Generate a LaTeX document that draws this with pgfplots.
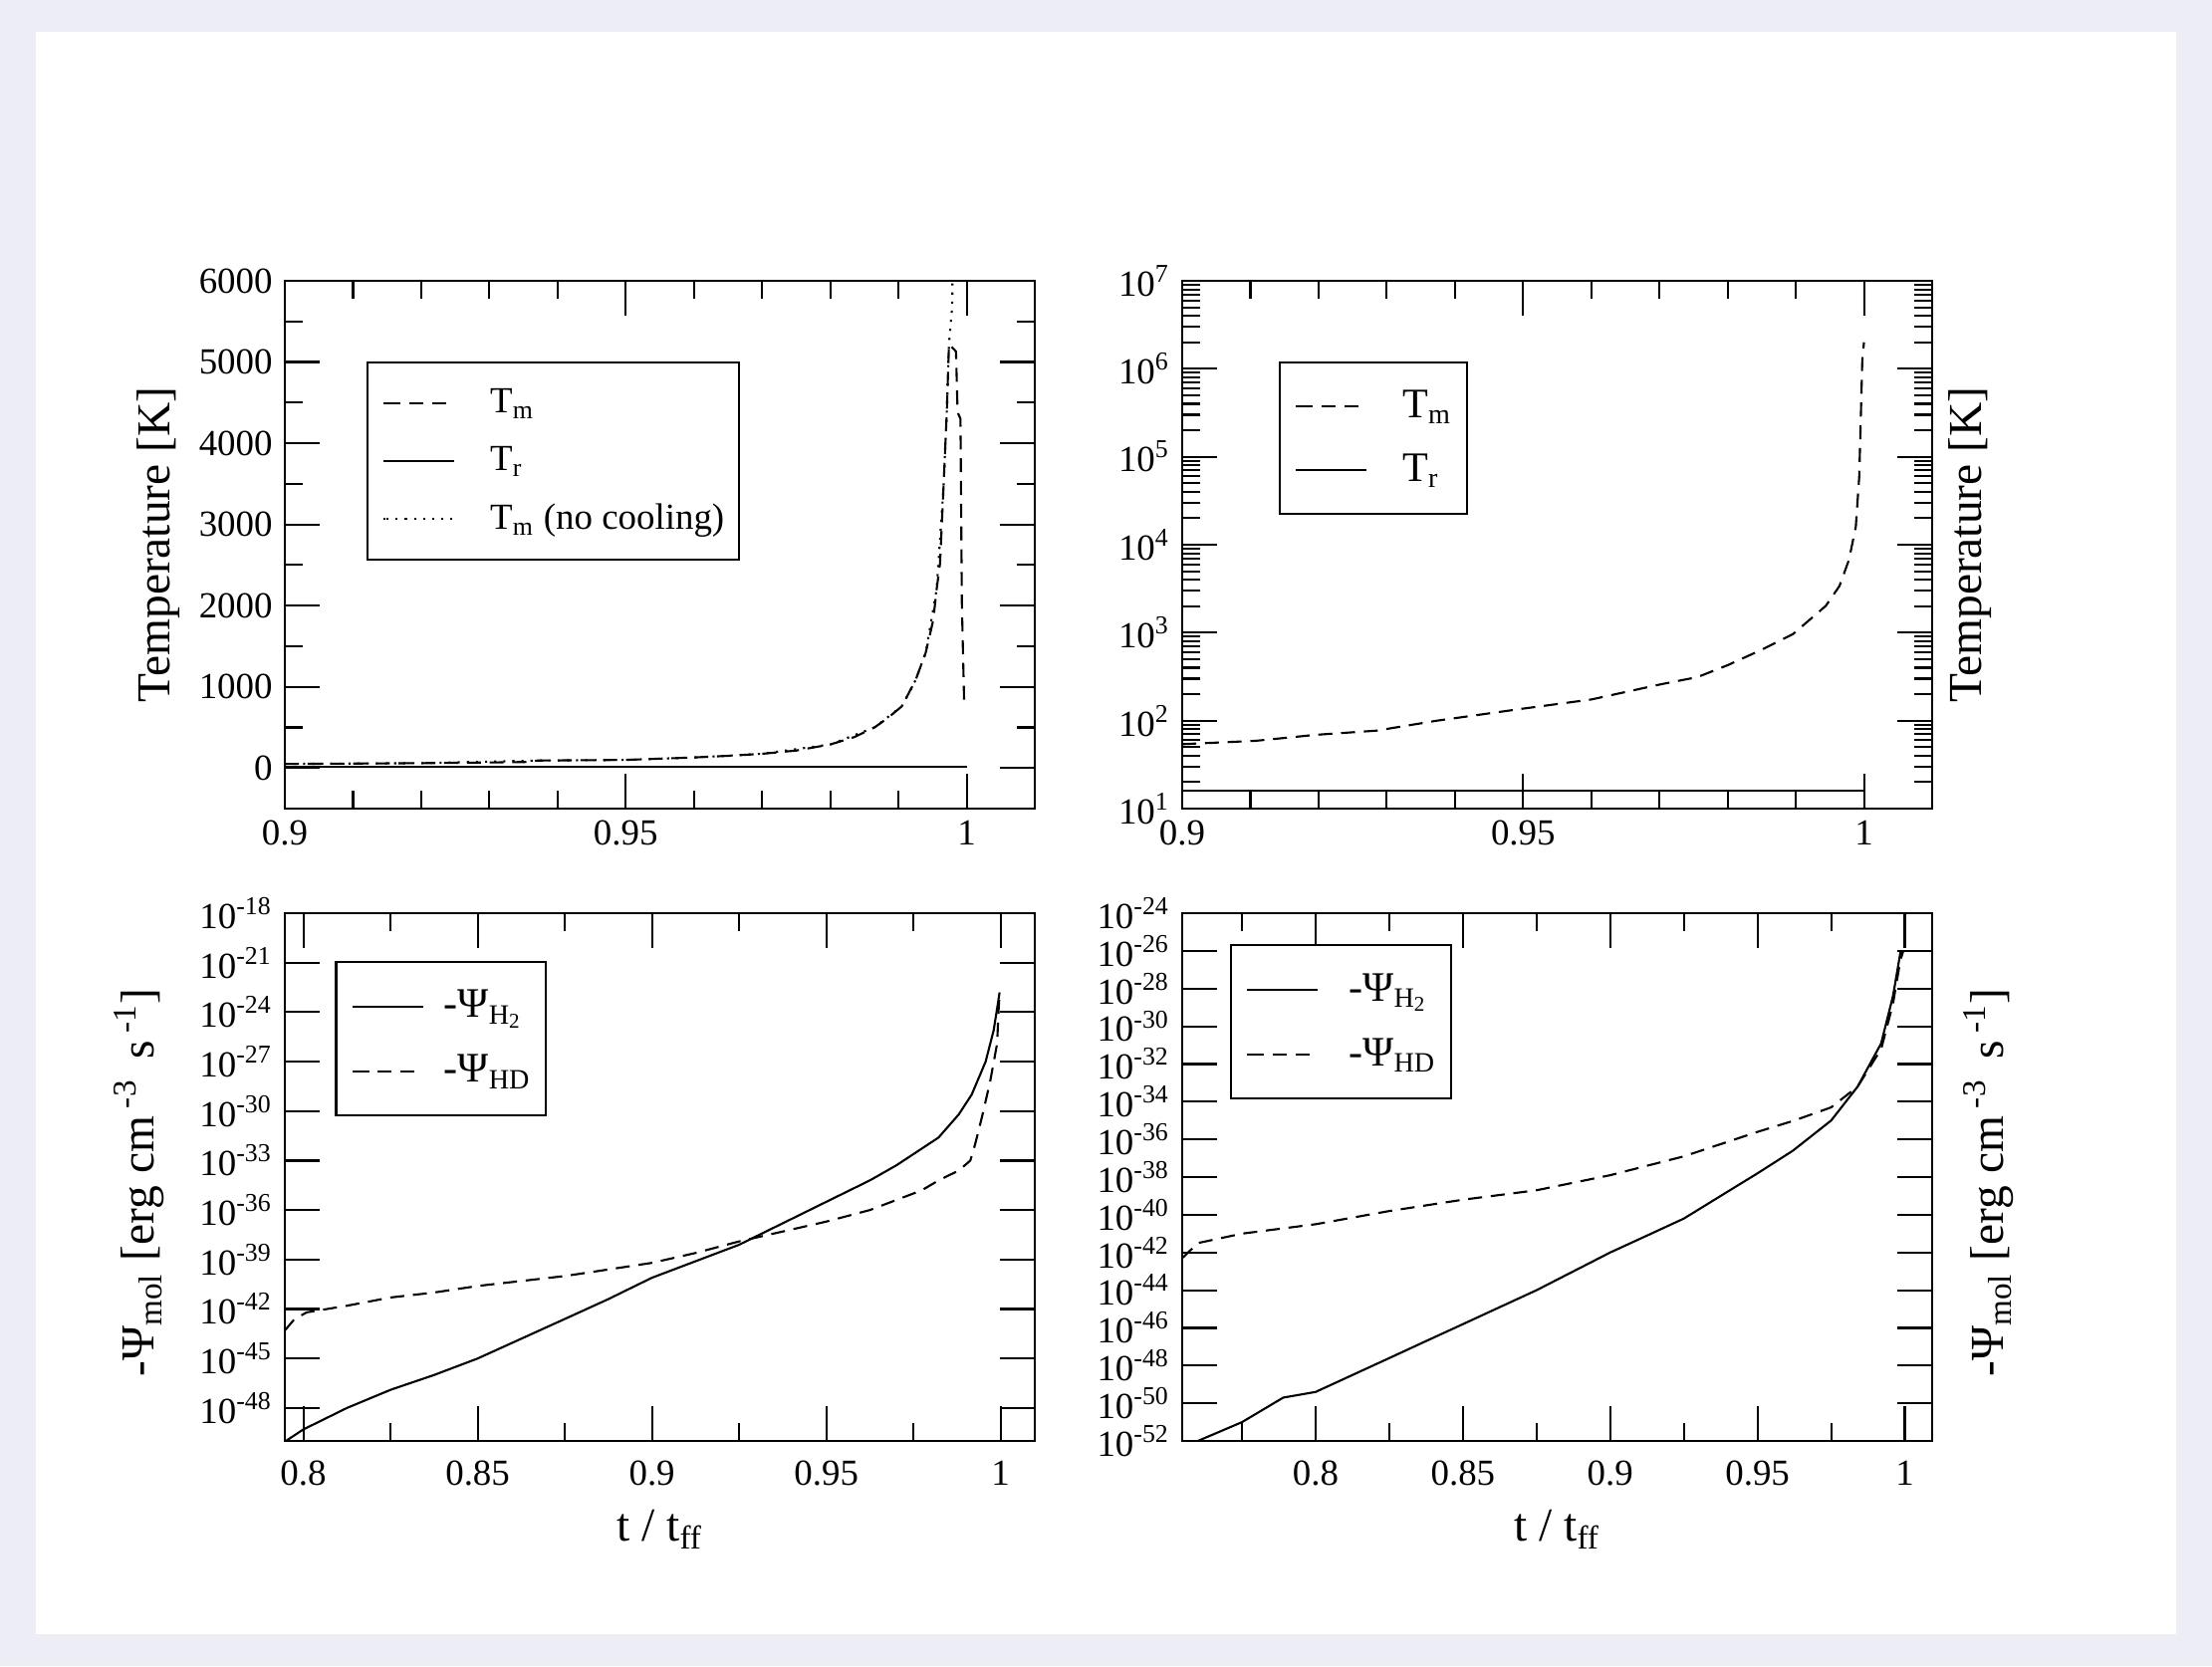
\documentclass[border=0pt]{standalone}
\usepackage{fontspec}
\setmainfont{Liberation Serif}
\usepackage{pgfplots}
\pgfplotsset{compat=1.18}

\definecolor{bgpanel}{RGB}{237,237,246}

% xmgrace look: box, ticks inside on all four sides
\pgfplotsset{
  grace/.style={
    scale only axis, width=7.53cm, height=5.30cm, anchor=south west,
    tick align=inside, tick pos=both,
    major tick length=0.35cm, minor tick length=0.18cm,
    axis line style={line width=0.6pt},
    every tick/.style={black, line width=0.6pt},
    tick label style={font=\fontsize{10.5}{12}\selectfont},
    label style={font=\fontsize{13.5}{15}\selectfont},
    legend cell align=left,
    cycle list={{black,solid}}, no markers,
    every axis plot/.append style={line width=0.6pt, black},
  },
  gdash/.style={dash pattern=on 4pt off 2.5pt},
  gdot/.style={dash pattern=on 0.6pt off 2pt},
  leg/.style 2 args={legend style={at={(#1,#2)}, anchor=north west, draw=black,
      line width=0.6pt, fill=white, inner xsep=0.15cm, inner ysep=0.12cm,
      column sep=0.35cm, row sep=0pt,
      nodes={inner sep=0pt, minimum height=0.58cm}}},
  legline/.style={legend image code/.code={%
      \path (0cm,0cm) -- (0.03cm,0cm);
      \draw[##1] (0.03cm,0cm) -- (0.71cm,0cm);}},
}

\begin{document}
\begin{tikzpicture}
\fill[bgpanel] (0,0) rectangle (22.21,16.73);
\fill[white] (0.36,0.32) rectangle (21.85,16.41);
\useasboundingbox (0,0) rectangle (22.21,16.73);

% ---------------- top left: linear temperature
\begin{axis}[grace, at={(2.86cm,8.61cm)},
  xmin=0.9, xmax=1.01, ymin=-500, ymax=6000,
  xtick={0.9,0.95,1}, xticklabels={0.9,0.95,1},
  minor xtick={0.91,0.92,0.93,0.94,0.96,0.97,0.98,0.99},
  ytick={0,1000,2000,3000,4000,5000,6000},
  yticklabels={0,1000,2000,3000,4000,5000,6000},
  minor ytick={500,1500,2500,3500,4500,5500},
  ylabel={Temperature [K]},
  ylabel style={at={(axis description cs:-0.168,0.5)}, anchor=center},
  leg={0.109}{0.847}, legline,
  legend style={font=\fontsize{10.5}{12}\selectfont},
]
\addplot[gdash] coordinates {
 (0.9000,50) (0.9100,55) (0.9200,60) (0.9300,68) (0.9360,75) (0.9370,92)
 (0.9500,100) (0.9600,130) (0.9650,150) (0.9700,175) (0.9750,215) (0.9800,290)
 (0.9835,380) (0.9865,500) (0.9885,620) (0.9905,760) (0.9925,1080) (0.9940,1420)
 (0.9951,1820) (0.9956,2200) (0.9961,2520) (0.9966,3440) (0.9971,4400)
 (0.99741,5220) (0.99800,5170) (0.99844,5130) (0.99868,4380) (0.99910,4300)
 (0.99930,2040) (0.99965,760)};
\addlegendentry{T\textsubscript{m}}
\addplot[solid] coordinates {(0.9,16) (1.0,16)};
\addlegendentry{T\textsubscript{r}}
\addplot[gdot] coordinates {
 (0.9000,50) (0.9200,60) (0.9370,92) (0.9500,100) (0.9600,130) (0.9700,175)
 (0.9800,290) (0.9865,500) (0.9905,760) (0.9925,1080) (0.9940,1420)
 (0.9956,2200) (0.9966,3440) (0.9971,4400) (0.99741,5220) (0.99790,5700)
 (0.99795,7000)};
\addlegendentry{T\textsubscript{m} (no cooling)}
\end{axis}

% ---------------- top right: log temperature
\begin{axis}[grace, at={(11.87cm,8.61cm)}, ymode=log,
  xmin=0.9, xmax=1.01, ymin=10, ymax=1e7,
  xtick={0.9,0.95,1}, xticklabels={0.9,0.95,1},
  minor xtick={0.91,0.92,0.93,0.94,0.96,0.97,0.98,0.99},
  ytick={1e1,1e2,1e3,1e4,1e5,1e6,1e7},
  yticklabels={10\textsuperscript{1},10\textsuperscript{2},10\textsuperscript{3},
    10\textsuperscript{4},10\textsuperscript{5},10\textsuperscript{6},10\textsuperscript{7}},
  minor ytick={2e1,3e1,4e1,5e1,6e1,7e1,8e1,9e1,2e2,3e2,4e2,5e2,6e2,7e2,8e2,9e2,
    2e3,3e3,4e3,5e3,6e3,7e3,8e3,9e3,2e4,3e4,4e4,5e4,6e4,7e4,8e4,9e4,
    2e5,3e5,4e5,5e5,6e5,7e5,8e5,9e5,2e6,3e6,4e6,5e6,6e6,7e6,8e6,9e6},
  yticklabel pos=left,
  ylabel={Temperature [K]},
  ylabel style={at={(axis description cs:1.050,0.5)}, anchor=center},
  leg={0.129}{0.847}, legline,
  legend style={font=\fontsize{12}{14}\selectfont, nodes={minimum height=0.64cm}},
]
\addplot[gdash] coordinates {
 (0.9000,54) (0.9108,59) (0.9196,69) (0.9285,77) (0.9374,100) (0.9500,137)
 (0.9600,174) (0.9700,257) (0.9756,313) (0.9800,427) (0.9848,630) (0.9896,966)
 (0.9944,2017) (0.9964,3390) (0.9978,6760) (0.9988,1.6e4) (0.9993,5.9e4)
 (0.9995,2.2e5) (0.99975,1.24e6) (1.0000,2.0e6)};
\addlegendentry{T\textsubscript{m}}
\addplot[solid] coordinates {(0.9,16) (1.0,16)};
\addlegendentry{T\textsubscript{r}}
\end{axis}

% ---------------- bottom left: cooling rates
\begin{axis}[grace, at={(2.86cm,2.26cm)}, ymode=log,
  xmin=0.7947, xmax=1.0098, ymin=1e-50, ymax=1e-18,
  xtick={0.8,0.85,0.9,0.95,1}, xticklabels={0.8,0.85,0.9,0.95,1},
  minor xtick={0.825,0.875,0.925,0.975},
  xticklabel style={yshift=-0.08cm},
  ytick={1e-48,1e-45,1e-42,1e-39,1e-36,1e-33,1e-30,1e-27,1e-24,1e-21,1e-18},
  yticklabels={10\textsuperscript{-48},10\textsuperscript{-45},10\textsuperscript{-42},
    10\textsuperscript{-39},10\textsuperscript{-36},10\textsuperscript{-33},
    10\textsuperscript{-30},10\textsuperscript{-27},10\textsuperscript{-24},
    10\textsuperscript{-21},10\textsuperscript{-18}},
  yminorticks=false,
  xlabel={t / t\textsubscript{ff}},
  xlabel style={at={(axis description cs:0.5,-0.168)}, anchor=center},
  ylabel={-Ψ\textsubscript{mol} [erg cm\,\textsuperscript{-3}\, s\,\textsuperscript{-1}]},
  ylabel style={at={(axis description cs:-0.194,0.49)}, anchor=center},
  leg={0.067}{0.909}, legline,
  legend style={font=\fontsize{12}{14}\selectfont, nodes={minimum height=0.65cm},
    column sep=0.20cm},
]
\addplot[solid] coordinates {
 (0.7950,1.0e-50) (0.8000,5.0e-50) (0.8125,1.0e-48) (0.8250,1.26e-47)
 (0.8375,1.0e-46) (0.8500,1.0e-45) (0.8625,1.58e-44) (0.8750,2.5e-43)
 (0.8875,4.0e-42) (0.9000,7.9e-41) (0.9125,7.9e-40) (0.9250,7.9e-39)
 (0.9375,1.58e-37) (0.9500,3.16e-36) (0.9625,6.3e-35) (0.9700,5.0e-34)
 (0.9765,4.0e-33) (0.9822,2.5e-32) (0.9880,6.3e-31) (0.9917,1.0e-29)
 (0.9957,1.0e-27) (0.9980,7.9e-26) (0.9992,3.16e-24) (0.9997,1.58e-23)};
\addlegendentry{-Ψ\textsubscript{H\textsubscript{2}}}
\addplot[gdash] coordinates {
 (0.7947,5.0e-44) (0.7975,2.5e-43) (0.8010,6.3e-43) (0.8125,1.58e-42)
 (0.8250,5.0e-42) (0.8375,1.0e-41) (0.8500,2.5e-41) (0.8625,5.0e-41)
 (0.8750,1.0e-40) (0.8875,2.5e-40) (0.9000,6.3e-40) (0.9125,2.5e-39)
 (0.9250,1.26e-38) (0.9375,5.0e-38) (0.9500,2.0e-37) (0.9625,1.0e-36)
 (0.9774,1.58e-35) (0.9822,6.3e-35) (0.9880,2.5e-34) (0.9913,1.0e-33)
 (0.9927,1.0e-32) (0.9946,4.0e-31) (0.9970,6.3e-29) (0.9990,1.26e-26)
 (0.9994,1.26e-24) (0.9997,1.26e-23)};
\addlegendentry{-Ψ\textsubscript{HD}}
\end{axis}

% ---------------- bottom right: cooling rates, longer run
\begin{axis}[grace, at={(11.87cm,2.26cm)}, ymode=log,
  xmin=0.7547, xmax=1.0093, ymin=1e-52, ymax=1e-24,
  xtick={0.8,0.85,0.9,0.95,1}, xticklabels={0.8,0.85,0.9,0.95,1},
  minor xtick={0.775,0.825,0.875,0.925,0.975},
  xticklabel style={yshift=-0.08cm},
  ytick={1e-52,1e-50,1e-48,1e-46,1e-44,1e-42,1e-40,1e-38,1e-36,1e-34,1e-32,
    1e-30,1e-28,1e-26,1e-24},
  yticklabels={10\textsuperscript{-52},10\textsuperscript{-50},10\textsuperscript{-48},
    10\textsuperscript{-46},10\textsuperscript{-44},10\textsuperscript{-42},
    10\textsuperscript{-40},10\textsuperscript{-38},10\textsuperscript{-36},
    10\textsuperscript{-34},10\textsuperscript{-32},10\textsuperscript{-30},
    10\textsuperscript{-28},10\textsuperscript{-26},10\textsuperscript{-24}},
  yminorticks=false,
  yticklabel pos=left,
  xlabel={t / t\textsubscript{ff}},
  xlabel style={at={(axis description cs:0.5,-0.168)}, anchor=center},
  ylabel={-Ψ\textsubscript{mol} [erg cm\,\textsuperscript{-3}\, s\,\textsuperscript{-1}]},
  ylabel style={at={(axis description cs:1.075,0.49)}, anchor=center},
  leg={0.064}{0.941}, legline,
  legend style={font=\fontsize{12}{14}\selectfont, nodes={minimum height=0.65cm},
    column sep=0.30cm},
]
\addplot[solid] coordinates {
 (0.7600,1.0e-52) (0.7750,1.0e-51) (0.7890,2.0e-50) (0.8000,4.0e-50)
 (0.8125,3.16e-49) (0.8250,2.5e-48) (0.8375,2.0e-47) (0.8500,1.58e-46)
 (0.8625,1.26e-45) (0.8750,1.0e-44) (0.8875,1.0e-43) (0.9000,1.0e-42)
 (0.9125,7.9e-42) (0.9250,6.3e-41) (0.9375,1.0e-39) (0.9500,1.58e-38)
 (0.9620,2.5e-37) (0.9750,1.0e-35) (0.9840,6.3e-34) (0.9920,1.26e-31)
 (0.9960,4.0e-29) (0.9985,7.9e-27) (0.9995,1.0e-26)};
\addlegendentry{-Ψ\textsubscript{H\textsubscript{2}}}
\addplot[gdash] coordinates {
 (0.7547,5.0e-43) (0.7600,3.16e-42) (0.7750,1.0e-41) (0.8000,3.16e-41)
 (0.8250,1.58e-40) (0.8500,6.3e-40) (0.8750,2.0e-39) (0.9000,1.26e-38)
 (0.9250,1.26e-37) (0.9500,2.5e-36) (0.9625,1.0e-35) (0.9750,5.0e-35)
 (0.9840,6.3e-34) (0.9920,6.3e-32) (0.9960,1.58e-29) (0.9985,3.16e-27)
 (0.9995,1.0e-26)};
\addlegendentry{-Ψ\textsubscript{HD}}
\end{axis}
\end{tikzpicture}
\end{document}
